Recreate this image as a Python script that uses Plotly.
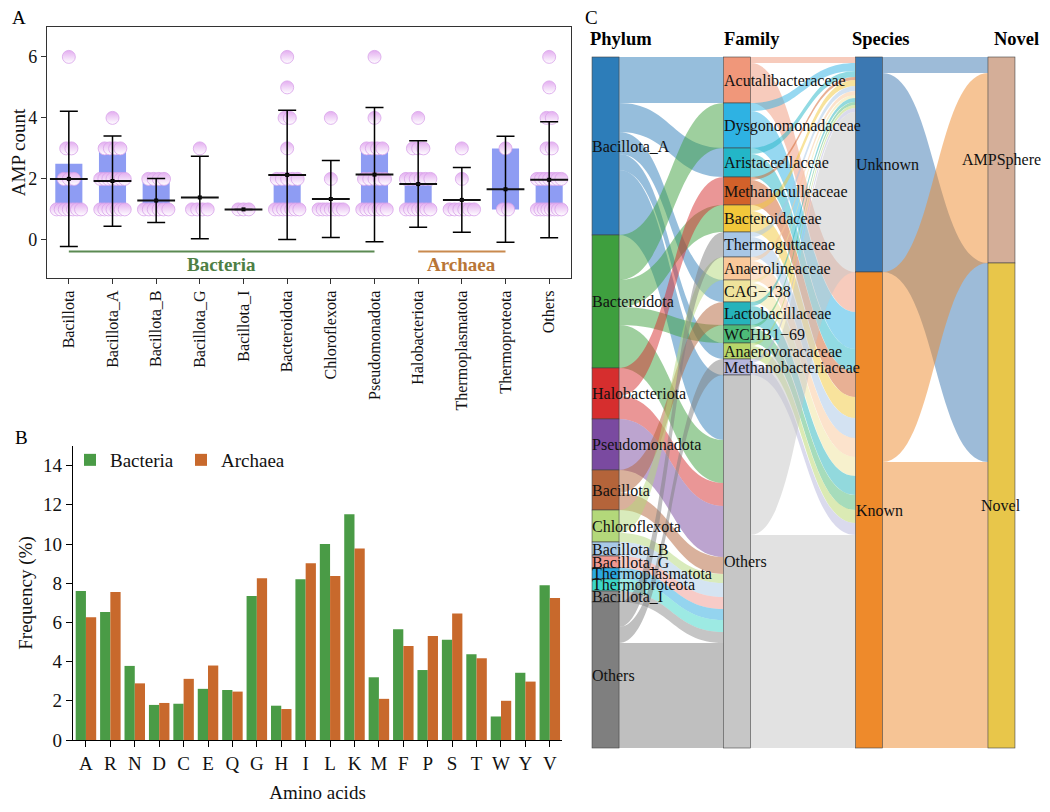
import plotly.graph_objects as go

# page body has an 8px margin: the figure is sized so it fits the 1050x812 window
OFF = 8
FW, FH = 1050 - OFF, 812 - 2 * OFF
FONT = "Liberation Serif"


def X(px):
    return (px - OFF) / FW


def Y(py):
    return 1 - (py - OFF) / FH


# ---------------- Panel A data ----------------
A_CATS = ["Bacillota", "Bacillota_A", "Bacillota_B", "Bacillota_G", "Bacillota_I",
          "Bacteroidota", "Chloroflexota", "Pseudomonadota", "Halobacteriota",
          "Thermoplasmatota", "Thermoproteota", "Others"]
A_Q1 = [1, 1, 1, 1, 1, 1, 1, 1, 1, 1, 1, 1]
A_Q3 = [2.5, 3, 2, 1, 1, 2, 1, 3, 2, 1, 3, 2]
A_MEAN = [2.0, 1.93, 1.29, 1.39, 1.0, 2.13, 1.34, 2.14, 1.83, 1.31, 1.66, 1.97]
A_SD = [2.22, 1.48, 0.72, 1.35, 0.0, 2.12, 1.26, 2.2, 1.42, 1.06, 1.74, 1.9]
A_DOT_LEVELS = [[1, 2, 3, 6], [1, 2, 3, 4], [1, 2], [1, 3], [1],
                [1, 2, 3, 4, 5, 6], [1, 2, 4], [1, 2, 3, 4, 6], [1, 2, 3, 4],
                [1, 2, 3], [1, 3], [1, 2, 3, 4, 5, 6]]
A_DOT_COUNTS = [[7, 3, 2, 1], [7, 7, 4, 1], [6, 4], [4, 1], [3],
                [7, 5, 1, 2, 1, 1], [7, 1, 1], [7, 5, 4, 1, 1], [7, 6, 3, 1],
                [6, 1, 1], [2, 1], [8, 7, 2, 2, 1, 1]]
A_GROUPS = ["Bacteria", "Archaea"]
A_GROUP_FIRST = ["Bacillota", "Halobacteriota"]
A_GROUP_LAST = ["Pseudomonadota", "Thermoproteota"]

# ---------------- Panel B data ----------------
AA = ["A", "R", "N", "D", "C", "E", "Q", "G", "H", "I", "L", "K", "M", "F", "P", "S", "T", "W", "Y", "V"]
B_BACT = [7.6, 6.53, 3.78, 1.79, 1.85, 2.61, 2.55, 7.35, 1.75, 8.2, 10.0, 11.52,
          3.2, 5.65, 3.57, 5.12, 4.37, 1.2, 3.43, 7.9]
B_ARCH = [6.26, 7.55, 2.89, 1.89, 3.12, 3.8, 2.47, 8.25, 1.58, 9.02, 8.37, 9.77,
          2.1, 4.8, 5.3, 6.45, 4.17, 2.0, 2.98, 7.25]

# ---------------- Panel C data ----------------
PHYLA = ["Bacillota_A", "Bacteroidota", "Halobacteriota", "Pseudomonadota", "Bacillota",
         "Chloroflexota", "Bacillota_B", "Bacillota_G", "Thermoplasmatota",
         "Thermoproteota", "Bacillota_I", "Others"]
PHYLA_COLORS = ["#2D7DB9", "#3E9F3E", "#D62E2E", "#7A4AA0", "#B4643A", "#B3D87A",
                "#A9C9E6", "#F09890", "#2AA9E0", "#3CD6C8", "#8C8C8C", "#7F7F7F"]
FAMILIES = ["Acutalibacteraceae", "Dysgonomonadaceae", "Aristaceellaceae",
            "Methanoculleaceae", "Bacteroidaceae", "Thermoguttaceae", "Anaerolineaceae",
            "CAG\u2212138", "Lactobacillaceae", "WCHB1\u221269", "Anaerovoracaceae",
            "Methanobacteriaceae", "Others "]
FAMILY_COLORS = ["#F0977A", "#2EB2E3", "#23B6C8", "#D2612A", "#F2C73A", "#A7C6E6",
                 "#F9C89A", "#EFE39B", "#25B3BB", "#4DBA78", "#B7D66A", "#B6B6DC", "#C6C6C6"]
SPECIES = ["Unknown", "Known"]
SPECIES_COLORS = ["#3B78B2", "#EE8A2B"]
NOVEL = ["AMPSphere", "Novel"]
NOVEL_COLORS = ["#D4AE98", "#E8C64A"]

P2F_SRC = ["Bacillota_A"] * 5 + ["Bacteroidota"] * 4 + ["Halobacteriota"] * 2 + \
          ["Pseudomonadota"] + ["Bacillota"] * 2 + ["Chloroflexota"] * 2 + \
          ["Bacillota_B", "Bacillota_G", "Thermoplasmatota", "Thermoproteota", "Bacillota_I"] + \
          ["Others"] * 3
P2F_TGT = ["Acutalibacteraceae", "Aristaceellaceae", "CAG\u2212138", "Anaerovoracaceae", "Others ",
           "Dysgonomonadaceae", "Bacteroidaceae", "WCHB1\u221269", "Others ",
           "Methanoculleaceae", "Others ",
           "Others ",
           "Lactobacillaceae", "Others ",
           "Anaerolineaceae", "Others ",
           "Others ", "Others ", "Others ", "Others ", "Others ",
           "Thermoguttaceae", "Methanobacteriaceae", "Others "]
P2F_VAL = [46, 29, 22, 16, 65,
           45, 27, 18, 43,
           28, 23,
           51,
           23, 17,
           23, 9,
           14, 12, 11, 12, 11,
           25, 16, 105]

F2S_UNKNOWN = [6, 8, 6, 3, 6, 5, 4, 3, 4, 3, 3, 4, 160]
F2S_KNOWN = [40, 37, 23, 25, 21, 20, 19, 19, 19, 15, 13, 12, 213]

S2N_SRC = ["Unknown", "Unknown", "Known", "Known"]
S2N_TGT = ["AMPSphere", "Novel", "AMPSphere", "Novel"]
S2N_VAL = [16, 199, 190, 286]

COLUMN_TITLES = ["Phylum", "Family", "Species", "Novel"]


def rgba(hx, a):
    hx = hx.lstrip("#")
    r, g, b = int(hx[0:2], 16), int(hx[2:4], 16), int(hx[4:6], 16)
    return f"rgba({r},{g},{b},{a})"


fig = go.Figure()

# ---------------- Panel A ----------------
XA = list(range(len(A_CATS)))
BOX_COLOR = "#8E9CF3"
DOT_FILL = "#E3ADF0"
DOT_LINE = "#D8A2EA"

fig.add_trace(go.Bar(
    x=XA, y=[q3 - q1 for q1, q3 in zip(A_Q1, A_Q3)], base=A_Q1, width=0.62,
    marker=dict(color=BOX_COLOR, line=dict(width=0)),
    xaxis="x", yaxis="y", showlegend=False, hoverinfo="skip"))

dx, dy = [], []
for i, (lvls, cnts) in enumerate(zip(A_DOT_LEVELS, A_DOT_COUNTS)):
    for lv, n in zip(lvls, cnts):
        step = 0.0 if n == 1 else min(0.12, 0.56 / (n - 1))
        for k in range(n):
            dx.append(i + (k - (n - 1) / 2) * step)
            dy.append(lv)
fig.add_trace(go.Scatter(
    x=dx, y=dy, mode="markers",
    marker=dict(size=13, color=DOT_FILL, line=dict(color=DOT_LINE, width=0.8),
                gradient=dict(type="vertical", color="white")),
    xaxis="x", yaxis="y", showlegend=False, hoverinfo="skip"))

fig.add_trace(go.Scatter(
    x=XA, y=A_MEAN, mode="markers",
    marker=dict(symbol="square", size=4, color="black"),
    error_y=dict(type="data", array=A_SD, visible=True, color="black", thickness=1.5, width=9),
    xaxis="x", yaxis="y", showlegend=False, hoverinfo="skip"))
fig.add_trace(go.Scatter(
    x=XA, y=A_MEAN, mode="markers",
    marker=dict(symbol="line-ew", size=27, line=dict(color="#111111", width=2)),
    xaxis="x", yaxis="y", showlegend=False, hoverinfo="skip"))

GROUP_COLORS = ["#5B8A52", "#C98A4E"]
GROUP_TEXT_COLORS = ["#4E7F45", "#B87637"]
for g, f, l, c, tc in zip(A_GROUPS, A_GROUP_FIRST, A_GROUP_LAST, GROUP_COLORS, GROUP_TEXT_COLORS):
    i0, i1 = A_CATS.index(f), A_CATS.index(l)
    fig.add_trace(go.Scatter(x=[i0, i1], y=[-0.38, -0.38], mode="lines",
                             line=dict(color=c, width=2), xaxis="x", yaxis="y",
                             showlegend=False, hoverinfo="skip"))
    fig.add_annotation(x=(i0 + i1) / 2, y=-0.8, xref="x", yref="y", text=f"<b>{g}</b>",
                       showarrow=False, font=dict(family=FONT, size=19, color=tc))

# ---------------- Panel B ----------------
fig.add_trace(go.Bar(x=AA, y=B_BACT, name="Bacteria", marker=dict(color="#4A9B46", line=dict(width=0)),
                     xaxis="x2", yaxis="y2", hoverinfo="skip"))
fig.add_trace(go.Bar(x=AA, y=B_ARCH, name="Archaea", marker=dict(color="#C8692C", line=dict(width=0)),
                     xaxis="x2", yaxis="y2", hoverinfo="skip"))

# ---------------- Panel C (Sankey) ----------------
labels = PHYLA + FAMILIES + SPECIES + NOVEL
colors = PHYLA_COLORS + FAMILY_COLORS + SPECIES_COLORS + NOVEL_COLORS
idx = {n: i for i, n in enumerate(labels)}

src, tgt, val, lcol = [], [], [], []
for s, t, v in zip(P2F_SRC, P2F_TGT, P2F_VAL):
    src.append(idx[s]); tgt.append(idx[t]); val.append(v)
    lcol.append(rgba(PHYLA_COLORS[PHYLA.index(s)], 0.5))
for fam, fc, u, k in zip(FAMILIES, FAMILY_COLORS, F2S_UNKNOWN, F2S_KNOWN):
    for sp, v in zip(SPECIES, [u, k]):
        src.append(idx[fam]); tgt.append(idx[sp]); val.append(v)
        lcol.append(rgba(fc, 0.5))
for s, t, v in zip(S2N_SRC, S2N_TGT, S2N_VAL):
    src.append(idx[s]); tgt.append(idx[t]); val.append(v)
    lcol.append(rgba(SPECIES_COLORS[SPECIES.index(s)], 0.5))

out_sum = [0] * len(labels)
in_sum = [0] * len(labels)
for s, t, v in zip(src, tgt, val):
    out_sum[s] += v
    in_sum[t] += v
node_val = [max(a, b) for a, b in zip(out_sum, in_sum)]

columns = [PHYLA, FAMILIES, SPECIES, NOVEL]
COL_X = [0.032, 0.343, 0.655, 0.968]
NODE_THICK = 27
SK_X = [X(592), X(1015)]
SK_Y = [Y(748), Y(57)]

node_x, node_y = [0] * len(labels), [0] * len(labels)
for c, col in enumerate(columns):
    tot = sum(node_val[idx[n]] for n in col)
    cum = 0
    for n in col:
        v = node_val[idx[n]]
        node_x[idx[n]] = COL_X[c]
        node_y[idx[n]] = (cum + v / 2) / tot
        cum += v

fig.add_trace(go.Sankey(
    domain=dict(x=SK_X, y=SK_Y),
    arrangement="fixed",
    node=dict(label=labels, color=colors, pad=0, thickness=NODE_THICK,
              line=dict(color="#444444", width=0.6), x=node_x, y=node_y,
              hoverinfo="none"),
    link=dict(source=src, target=tgt, value=val, color=lcol, hoverinfo="none"),
    textfont=dict(color="rgba(0,0,0,0)", size=1),
))

sk_w = SK_X[1] - SK_X[0]
sk_h = SK_Y[1] - SK_Y[0]
for c, col in enumerate(columns):
    for n in col:
        i = idx[n]
        xc = SK_X[0] + node_x[i] * sk_w
        yc = SK_Y[1] - node_y[i] * sk_h
        if c == 3:
            fig.add_annotation(x=xc, y=yc, xref="paper", yref="paper", text=n.strip(),
                               showarrow=False, xanchor="center", yanchor="middle",
                               font=dict(family=FONT, size=16, color="#111111"))
        else:
            fig.add_annotation(x=xc - (NODE_THICK / 2) / FW, y=yc, xref="paper", yref="paper",
                               text=n.strip(), showarrow=False, xanchor="left", yanchor="middle",
                               xshift=-2, font=dict(family=FONT, size=16, color="#111111"))

for title, px in zip(COLUMN_TITLES, [621, 752, 881, 1016]):
    fig.add_annotation(x=X(px), y=Y(39), xref="paper", yref="paper",
                       text=f"<b>{title}</b>", showarrow=False,
                       xanchor="center", yanchor="middle",
                       font=dict(family=FONT, size=18.5, color="black"))

# panel letters
for txt, px, py in [("A", 19, 17), ("B", 21, 437), ("C", 591, 17)]:
    fig.add_annotation(x=X(px), y=Y(py), xref="paper", yref="paper", text=txt,
                       showarrow=False, xanchor="center", yanchor="middle",
                       font=dict(family=FONT, size=19, color="black"))

AXCOL = "#333333"
fig.update_layout(
    width=FW, height=FH, margin=dict(l=0, r=0, t=0, b=0, autoexpand=False),
    paper_bgcolor="white", plot_bgcolor="white",
    font=dict(family=FONT, size=16, color="#111111"),
    barmode="group", bargap=0.16, bargroupgap=0,
    legend=dict(orientation="h", x=X(70), y=Y(441), xanchor="left", yanchor="top",
                font=dict(family=FONT, size=19), bgcolor="rgba(0,0,0,0)",
                itemwidth=30, tracegroupgap=0, entrywidthmode="pixels", entrywidth=66),
    xaxis=dict(domain=[X(47), X(571)], range=[-0.5, 11.5], anchor="y", tickmode="array",
               tickvals=XA, ticktext=A_CATS, tickangle=-90, ticks="outside", ticklen=5,
               tickcolor=AXCOL, showline=True, linecolor=AXCOL, linewidth=1.3, mirror=True,
               showgrid=False, zeroline=False, automargin=False,
               tickfont=dict(family=FONT, size=16, color="#111111")),
    yaxis=dict(domain=[Y(278), Y(27)], range=[-1.25, 6.98], anchor="x", tickvals=[0, 2, 4, 6],
               ticks="outside", ticklen=5, tickcolor=AXCOL, showline=True, linecolor=AXCOL,
               linewidth=1.3, mirror=True, showgrid=False, zeroline=False, automargin=False,
               title=dict(text="AMP count", font=dict(family=FONT, size=19), standoff=6),
               tickfont=dict(family=FONT, size=18, color="#111111")),
    xaxis2=dict(domain=[X(73), X(562)], range=[-0.53, 19.5], anchor="y2", ticks="outside",
                ticklen=6, tickcolor="black", showline=True, linecolor="black", linewidth=1.3,
                showgrid=False, zeroline=False, automargin=False,
                tickfont=dict(family=FONT, size=19, color="#111111"),
                title=dict(text="Amino acids", font=dict(family=FONT, size=19), standoff=12)),
    yaxis2=dict(domain=[Y(740), Y(446)], range=[0, 15], anchor="x2",
                tickvals=list(range(0, 15, 2)), ticks="outside", ticklen=6, tickcolor="black",
                showline=True, linecolor="black", linewidth=1.3, showgrid=False, zeroline=False,
                automargin=False, tickfont=dict(family=FONT, size=19, color="#111111"),
                title=dict(text="Frequency (%)", font=dict(family=FONT, size=19), standoff=5)),
)

fig.write_html("out.html")
